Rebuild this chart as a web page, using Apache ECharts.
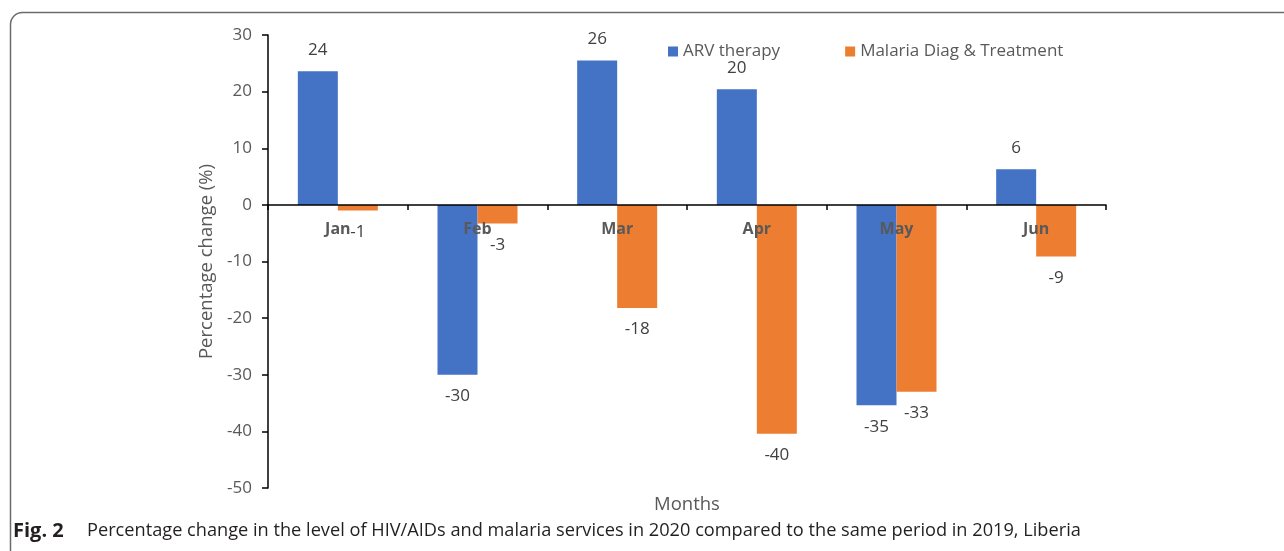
<!DOCTYPE html>
<html>
<head>
<meta charset="utf-8">
<script src="https://cdn.jsdelivr.net/npm/echarts@6/dist/echarts.min.js"></script>
<style>
html,body{margin:0;padding:0;background:#fff;}
#chart{width:1284px;height:551px;}
</style>
</head>
<body>
<div id="chart"></div>
<script>
const categories = ['Jan', 'Feb', 'Mar', 'Apr', 'May', 'Jun'];
const arvTherapy = [23.6, -30.0, 25.5, 20.4, -35.4, 6.3];
const malariaDiag = [-1.0, -3.3, -18.2, -40.4, -33.0, -9.1];
const seriesNames = ['ARV therapy', 'Malaria Diag & Treatment'];
const yTicks = { min: -50, max: 30, interval: 10 };
const yAxisTitle = 'Percentage change (%)';
const xAxisTitle = 'Months';
const captionBold = 'Fig. 2';
const captionText = 'Percentage change in the level of HIV/AIDs and malaria services in 2020 compared to the same period in 2019, Liberia';

const FONT = 'Open Sans';
const GRID = { left: 268, right: 178, top: 35, bottom: 63 };
const plotH = 551 - GRID.top - GRID.bottom;
// place the category axis on the zero line
const zeroOffset = -plotH * (0 - yTicks.min) / (yTicks.max - yTicks.min);

function toItems(arr) {
  return arr.map(v => ({ value: v, label: { position: v < 0 ? 'bottom' : 'top' } }));
}
const labelCfg = {
  show: true, distance: 13, fontFamily: FONT, fontSize: 17, color: '#404040',
  formatter: p => String(Math.round(p.value))
};

const chart = echarts.init(document.getElementById('chart'), null, { renderer: 'canvas' });
chart.setOption({
  animation: false,
  backgroundColor: '#fff',
  textStyle: { fontFamily: FONT },
  grid: Object.assign({ containLabel: false }, GRID),
  legend: {
    left: 668, top: 43, padding: 0, itemWidth: 10, itemHeight: 10, itemGap: 65,
    icon: 'rect',
    textStyle: { fontFamily: FONT, fontSize: 17, color: '#595959' },
    data: seriesNames
  },
  xAxis: {
    type: 'category', data: categories, position: 'bottom', offset: zeroOffset, z: 10,
    axisLine: { onZero: false, lineStyle: { color: '#000', width: 1.5 } },
    axisTick: { show: true, alignWithLabel: false, length: 5, lineStyle: { color: '#000', width: 1.5 } },
    axisLabel: { fontFamily: FONT, fontSize: 16, fontWeight: 'bold', color: '#595959', margin: 17 },
    splitLine: { show: false }
  },
  yAxis: {
    type: 'value', min: yTicks.min, max: yTicks.max, interval: yTicks.interval,
    name: yAxisTitle, nameLocation: 'middle', nameGap: 50,
    nameTextStyle: { fontFamily: FONT, fontSize: 18.5, color: '#595959' },
    axisLine: { show: true, lineStyle: { color: '#000', width: 1.5 } },
    axisTick: { show: true, length: 6, lineStyle: { color: '#000', width: 1.5 } },
    axisLabel: { fontFamily: FONT, fontSize: 17, color: '#595959', margin: 16 },
    splitLine: { show: false }
  },
  series: [
    { name: seriesNames[0], type: 'bar', data: toItems(arvTherapy), barWidth: 40, barGap: '0%',
      itemStyle: { color: '#4472C4' }, label: labelCfg },
    { name: seriesNames[1], type: 'bar', data: toItems(malariaDiag), barWidth: 40, barGap: '0%',
      itemStyle: { color: '#ED7D31' }, label: labelCfg }
  ],
  graphic: [
    { type: 'rect', z: -1, silent: true,
      shape: { x: 10.5, y: 12.5, width: 1400, height: 700, r: 12 },
      style: { fill: 'none', stroke: '#6b6b6b', lineWidth: 1.5 } },
    { type: 'text', x: 687, y: 505,
      style: { text: xAxisTitle, fontFamily: FONT, fontSize: 18.5, fill: '#595959', align: 'center', verticalAlign: 'middle' } },
    { type: 'text', x: 13, y: 531,
      style: { text: captionBold, fontFamily: FONT, fontSize: 20, fontWeight: 'bold', fill: '#231f20', align: 'left', verticalAlign: 'middle' } },
    { type: 'text', x: 87, y: 531,
      style: { text: captionText, fontFamily: FONT, fontSize: 18.2, fill: '#231f20', align: 'left', verticalAlign: 'middle' } }
  ]
});
</script>
</body>
</html>
